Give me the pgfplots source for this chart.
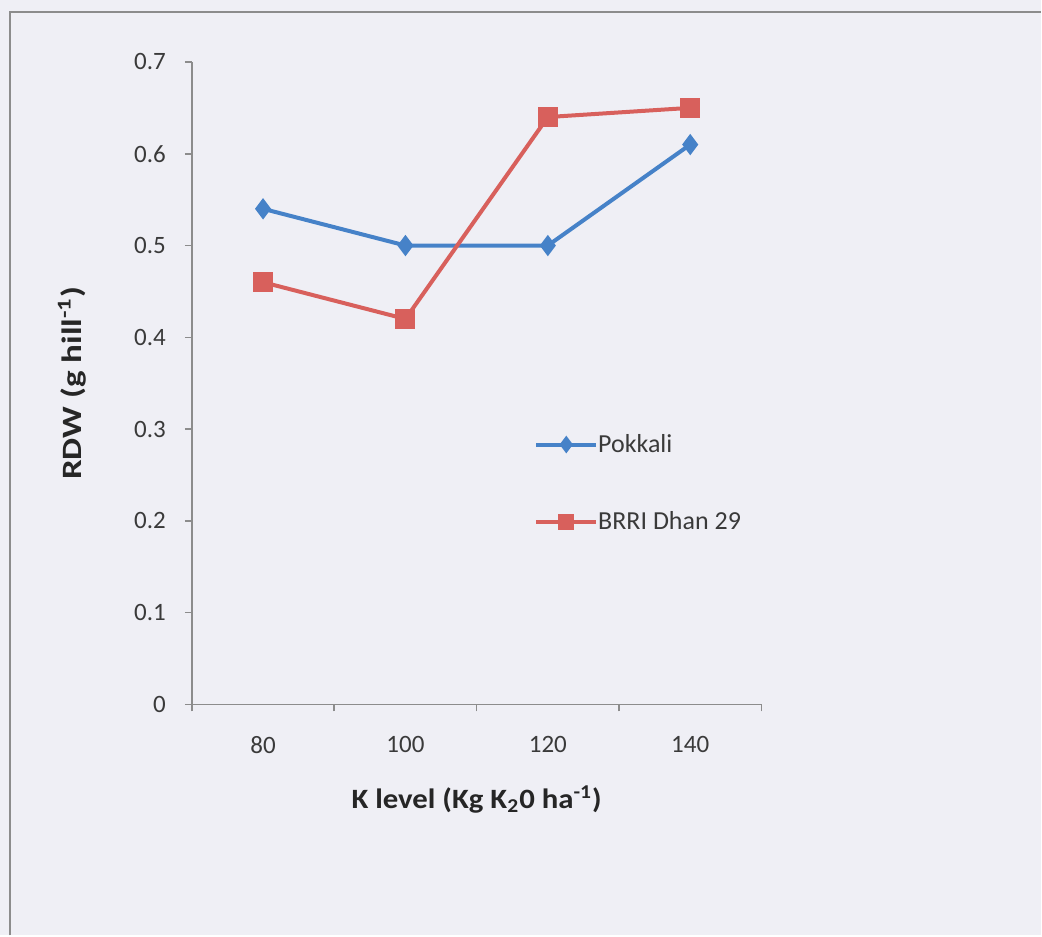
\documentclass[border=0pt]{standalone}
\usepackage{fontspec}
\setmainfont{Carlito}
\usepackage{pgfplots}
\pgfplotsset{compat=1.18}

\definecolor{paper}{HTML}{EFEFF5}
\definecolor{pokblue}{HTML}{4682C8}
\definecolor{brrired}{HTML}{D8605C}
\definecolor{axgray}{HTML}{8C8C8C}
\definecolor{txt}{HTML}{3A3A3A}

\begin{document}
\begin{tikzpicture}
  % page 1042x936 px at 0.5pt per px
  \fill[paper] (0,0) rectangle (521pt,468pt);
  \draw[axgray, line width=0.8pt] (5pt,0) -- (5pt,462pt) -- (521pt,462pt);
  \begin{axis}[
    at={(96pt,115.5pt)}, anchor=south west,
    scale only axis, width=285pt, height=321.5pt,
    xmin=-0.5, xmax=3.5, ymin=0, ymax=0.7,
    axis x line*=bottom, axis y line*=left,
    axis line style={axgray, line width=0.8pt},
    xtick={0,1,2,3}, xticklabels={80,100,120,140},
    major x tick style={draw=none},
    minor xtick={-0.5,0.5,1.5,2.5,3.5},
    minor x tick style={axgray, line width=0.8pt},
    minor tick length=3.5pt,
    ytick={0,0.1,...,0.7},
    y tick style={axgray, line width=0.8pt},
    major tick length=3.5pt, tick align=outside,
    yticklabel style={/pgf/number format/fixed, /pgf/number format/precision=1, xshift=-6pt},
    xticklabel style={yshift=-9pt},
    /pgf/number format/assume math mode=true,
    ticklabel style={font=\fontsize{12.5}{14}\selectfont, text=txt},
    xlabel={\textbf{K level (Kg K\textsubscript{2}0 ha\textsuperscript{-1})}},
    ylabel={\textbf{RDW (g hill\textsuperscript{-1})}},
    label style={font=\fontsize{14}{16}\selectfont, text=black!85},
    xlabel style={at={(rel axis cs:0.5,0)}, anchor=center, yshift=-47.5pt, xscale=1.1},
    ylabel style={at={(rel axis cs:0,0.5)}, anchor=center, yshift=60pt, xscale=1.25},
    legend style={draw=none, fill=none, at={(rel axis cs:0.59,0.434)}, anchor=north west,
      font=\fontsize{13}{15}\selectfont, text=txt, row sep=24pt,
      /tikz/every even column/.append style={column sep=0pt},
      /tikz/every odd column/.append style={column sep=-2pt}},
    legend cell align=left,
    legend image code/.code={\draw[mark repeat=2, mark phase=2, #1, every mark/.append style={scale=0.75}] plot coordinates {(0pt,0pt) (15pt,0pt) (30pt,0pt)};},
  ]
    \addplot[pokblue, line width=2pt, mark=diamond*, mark size=3.7pt, mark options={solid, fill=pokblue}]
      coordinates {(0,0.54) (1,0.50) (2,0.50) (3,0.61)};
    \addlegendentry{Pokkali}
    \addplot[brrired, line width=2pt, mark=square*, mark size=4pt, mark options={solid, fill=brrired}]
      coordinates {(0,0.46) (1,0.42) (2,0.64) (3,0.65)};
    \addlegendentry{BRRI Dhan 29}
  \end{axis}
\end{tikzpicture}
\end{document}
